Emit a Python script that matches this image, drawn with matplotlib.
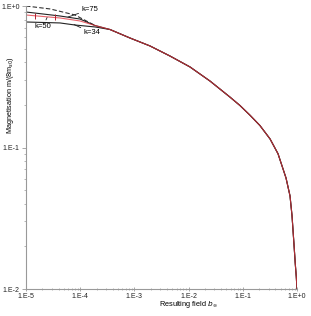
import numpy as np
import matplotlib
matplotlib.use("Agg")
import matplotlib.pyplot as plt

plt.rcParams['font.family'] = ['Liberation Sans', 'DejaVu Sans']

# shared tail of all curves (resulting field b, magnetisation m)
tail_b = [3.55e-4, 8.3e-4, 1.94e-3, 4.54e-3, 1.06e-2, 2.48e-2, 5.81e-2, 8.87e-2,
          0.136, 0.207, 0.318, 0.446, 0.627, 0.743, 0.809, 0.881, 0.93, 0.97, 1.0]
tail_m = [0.682, 0.594, 0.522, 0.443, 0.371, 0.295, 0.227, 0.198,
          0.169, 0.143, 0.115, 0.0904, 0.0609, 0.0455, 0.033, 0.0205, 0.0150, 0.0122, 0.01]

# leading parts
dash_b = [1e-5, 2.8e-5, 8.0e-5, 1.88e-4]
dash_m = [1.0, 0.953, 0.864, 0.728]
k75_b = [1e-5, 4.24e-5, 9.9e-5, 1.88e-4]
k75_m = [0.907, 0.850, 0.809, 0.728]
k50_b = [1e-5, 4.24e-5, 9.9e-5, 1.88e-4]
k50_m = [0.864, 0.823, 0.784, 0.728]
k34_b = [1e-5, 4.24e-5, 8.0e-5, 1.88e-4]
k34_m = [0.771, 0.759, 0.734, 0.711]

# error marks on the k=50 curve
err_b = [1.48e-5, 3.47e-5]
err_m = [0.852, 0.832]

xticks = [1e-5, 1e-4, 1e-3, 1e-2, 1e-1, 1e0]
xlabels = ['1.E-5', '1.E-4', '1.E-3', '1.E-2', '1.E-1', '1.E+0']
yticks = [1e-2, 1e-1, 1e0]
ylabels = ['1.E-2', '1.E-1', '1.E+0']

fig = plt.figure(figsize=(3.11, 3.16), dpi=100)
ax = fig.add_axes([0.0836, 0.0854, 0.8714, 0.8956])

ax.plot(dash_b, dash_m, color='#333333', lw=0.8, ls=(0, (4, 2)))
ax.plot(k75_b + tail_b, k75_m + tail_m, color='#222222', lw=0.8)
ax.plot(k34_b + tail_b, k34_m + tail_m, color='#222222', lw=0.8)
ax.plot(k50_b + tail_b, k50_m + tail_m, color='#e0303a', lw=0.8, alpha=0.75)
ax.errorbar(err_b, err_m, yerr=[[0.04, 0.04], [0.04, 0.04]], fmt='none',
            ecolor='#b02030', elinewidth=0.7, capsize=0)

ax.set_xscale('log')
ax.set_yscale('log')
ax.set_xlim(1e-5, 1)
ax.set_ylim(1e-2, 1)

ax.set_xticks(xticks)
ax.set_xticklabels(xlabels)
ax.set_yticks(yticks)
ax.set_yticklabels(ylabels)

for s in ['top', 'right']:
    ax.spines[s].set_visible(False)
for s in ['left', 'bottom']:
    ax.spines[s].set_color('#999999')
    ax.spines[s].set_linewidth(0.8)
ax.tick_params(axis='both', which='major', labelsize=5, colors='#999999',
               labelcolor='#222222', length=3, width=0.6, pad=1.5)
ax.tick_params(axis='x', which='both', direction='inout')
ax.tick_params(axis='both', which='minor', colors='#999999', length=1.5, width=0.5)

ax.set_xlabel('Resulting field $b_{\\infty}$', fontsize=5.3)
ax.set_ylabel('Magnetisation m/(8m$_{s0}$)', fontsize=5.2, va='center')
ax.xaxis.set_label_coords(0.60, -0.035)
ax.yaxis.set_label_coords(-0.059, 0.685)

arrow = dict(arrowstyle='-', color='#222222', lw=0.6, shrinkA=0, shrinkB=0)
ax.annotate('k=75', xy=(5.96e-5, 0.836), xytext=(1.05e-4, 0.945), fontsize=5.5,
            ha='left', va='center', arrowprops=arrow)
ax.annotate('k=50', xy=(2.45e-5, 0.829), xytext=(1.45e-5, 0.72), fontsize=5.5,
            ha='left', va='center', arrowprops=arrow)
ax.annotate('k=34', xy=(7.7e-5, 0.740), xytext=(1.15e-4, 0.645), fontsize=5.5,
            ha='left', va='center', arrowprops=arrow)

fig.savefig('out.png', dpi=100)
